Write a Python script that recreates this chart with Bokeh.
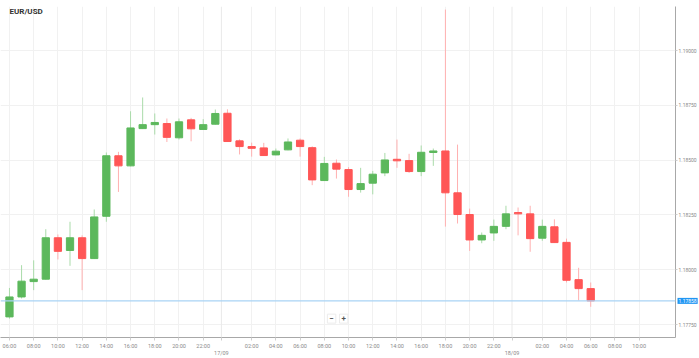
from bokeh.plotting import figure
from bokeh.models import (FixedTicker, Span, Label, ColumnDataSource,
                          Range1d, NumeralTickFormatter)
from bokeh.embed import file_html
from bokeh.resources import INLINE

symbol = "EUR/USD"

times = ["06:00", "07:00", "08:00", "09:00", "10:00", "11:00", "12:00", "13:00", "14:00",
         "15:00", "16:00", "17:00", "18:00", "19:00", "20:00", "21:00", "22:00", "23:00",
         "00:00", "01:00", "02:00", "03:00", "04:00", "05:00", "06:00", "07:00", "08:00",
         "09:00", "10:00", "11:00", "12:00", "13:00", "14:00", "15:00", "16:00", "17:00",
         "18:00", "19:00", "20:00", "21:00", "22:00", "23:00",
         "00:00", "01:00", "02:00", "03:00", "04:00", "05:00", "06:00"]
future_times = ["07:00", "08:00", "09:00", "10:00"]
dates = ["17/09", "18/09"]

opens = [1.17785, 1.17876, 1.17946, 1.17957, 1.18146, 1.18088, 1.18146, 1.18051, 1.18244, 1.18520,
         1.18474, 1.18644, 1.18662, 1.18667, 1.18602, 1.18684, 1.18640, 1.18664, 1.18714, 1.18588,
         1.18562, 1.18556, 1.18524, 1.18547, 1.18591, 1.18557, 1.18407, 1.18486, 1.18457, 1.18366,
         1.18395, 1.18442, 1.18504, 1.18498, 1.18448, 1.18535, 1.18542, 1.18351, 1.18252, 1.18136,
         1.18168, 1.18198, 1.18261, 1.18255, 1.18144, 1.18196, 1.18125, 1.17955, 1.17914]
closes = [1.17876, 1.17948, 1.17957, 1.18146, 1.18084, 1.18146, 1.18051, 1.18241, 1.18520, 1.18474,
          1.18647, 1.18662, 1.18672, 1.18604, 1.18675, 1.18643, 1.18662, 1.18713, 1.18585, 1.18562,
          1.18554, 1.18521, 1.18541, 1.18583, 1.18562, 1.18410, 1.18485, 1.18459, 1.18366, 1.18393,
          1.18436, 1.18501, 1.18497, 1.18448, 1.18536, 1.18542, 1.18351, 1.18252, 1.18136, 1.18157,
          1.18198, 1.18255, 1.18255, 1.18142, 1.18198, 1.18124, 1.17952, 1.17914, 1.17858]
highs = [1.17917, 1.18021, 1.18043, 1.18185, 1.18161, 1.18219, 1.18157, 1.18275, 1.18535, 1.18538,
         1.18723, 1.18786, 1.18713, 1.18690, 1.18690, 1.18693, 1.18687, 1.18731, 1.18732, 1.18595,
         1.18580, 1.18579, 1.18553, 1.18599, 1.18599, 1.18563, 1.18515, 1.18503, 1.18468, 1.18465,
         1.18451, 1.18533, 1.18594, 1.18529, 1.18567, 1.18553, 1.19187, 1.18571, 1.18279, 1.18170,
         1.18229, 1.18292, 1.18284, 1.18292, 1.18229, 1.18230, 1.18142, 1.18009, 1.17942]
lows = [1.17777, 1.17869, 1.17907, 1.17955, 1.18047, 1.18018, 1.17907, 1.18049, 1.18219, 1.18355,
        1.18472, 1.18642, 1.18617, 1.18583, 1.18594, 1.18586, 1.18638, 1.18662, 1.18583, 1.18526,
        1.18516, 1.18519, 1.18522, 1.18545, 1.18516, 1.18386, 1.18405, 1.18416, 1.18333, 1.18352,
        1.18344, 1.18427, 1.18465, 1.18442, 1.18427, 1.18474, 1.18197, 1.18211, 1.18086, 1.18121,
        1.18132, 1.18185, 1.18157, 1.18082, 1.18132, 1.18122, 1.17942, 1.17860, 1.17831]
price_ticks = [1.17750, 1.18000, 1.18250, 1.18500, 1.18750, 1.19000]

GREEN = "#5cb85c"
RED = "#ff5656"
GREEN_WICK = "#a9dba9"
RED_WICK = "#ffb0b0"
FONT = "Roboto"

idx = list(range(len(times)))
up = [c >= o for o, c in zip(opens, closes)]
src = ColumnDataSource(dict(
    x=idx,
    top=[max(o, c) for o, c in zip(opens, closes)],
    bottom=[min(o, c) for o, c in zip(opens, closes)],
    high=highs, low=lows,
    color=[GREEN if u else RED for u in up],
    wick=[GREEN_WICK if u else RED_WICK for u in up],
))

p = figure(width=699, height=358, output_backend="svg", toolbar_location=None,
           x_range=Range1d(-0.74, 55.0), y_range=Range1d(1.17691, 1.19201),
           y_axis_location="right", min_border_left=0, min_border_top=0,
           min_border_right=23, min_border_bottom=0, outline_line_color=None)

all_times = times + future_times
x_ticks = [i for i, t in enumerate(all_times) if int(t[:2]) % 2 == 0 and t != "00:00"]
sep_pos = [i - 0.5 for i, t in enumerate(times) if t == "00:00"]
overrides = {i: all_times[i] for i in x_ticks}
for s, d in zip(sep_pos, dates):
    overrides[s] = " \n" + d

# grids
p.xgrid.ticker = FixedTicker(ticks=x_ticks)
p.xgrid.grid_line_color = "#f1f1f1"
p.ygrid.grid_line_color = "#f1f1f1"
for s in sep_pos:
    p.add_layout(Span(location=s, dimension="height", line_color="#e9e9e9", line_width=1))

# bottom axis
xa = p.xaxis[0]
xa.ticker = FixedTicker(ticks=x_ticks + sep_pos)
xa.major_label_overrides = overrides
xa.axis_line_color = "#a8a8a8"
xa.major_tick_line_color = "#cfcfcf"
xa.major_tick_in = 0
xa.major_tick_out = 3
xa.minor_tick_line_color = None
xa.major_label_standoff = 2
xa.major_label_text_font = FONT
xa.major_label_text_font_size = "5.5px"
xa.major_label_text_color = "#8a8a8a"
xa.major_label_text_line_height = 1.2

# right axis
ya = p.yaxis[0]
ya.ticker = FixedTicker(ticks=price_ticks)
ya.formatter = NumeralTickFormatter(format="0.00000")
ya.axis_line_color = "#a8a8a8"
ya.major_tick_line_color = "#cfcfcf"
ya.major_tick_in = 0
ya.major_tick_out = 2
ya.minor_tick_line_color = None
ya.major_label_standoff = 1
ya.major_label_text_font = FONT
ya.major_label_text_font_size = "5px"
ya.major_label_text_color = "#8a8a8a"

# current price line
last = closes[-1]
p.add_layout(Span(location=last, dimension="width", line_color="#a9d3f5", line_width=1.2))

# candles
p.segment(x0="x", x1="x", y0="low", y1="high", line_color="wick", line_width=1, source=src)
p.vbar(x="x", width=0.6, top="top", bottom="bottom", fill_color="color",
       line_color="color", line_width=1, source=src)

# price tag on the axis (placed in a side panel so it is not clipped to the frame)
tag = Label(x=677, x_units="canvas", y=last, text=f"{last:.5f}",
            text_baseline="middle", text_align="left",
            text_font=FONT, text_font_size="5px", text_color="white",
            background_fill_color="#2196f3", padding=1)
p.add_layout(tag, "above")

# title
p.add_layout(Label(x=-0.74, y=1.19201, text=symbol, x_offset=9, y_offset=0,
                   text_baseline="top", text_align="left", text_font=FONT,
                   text_font_style="bold", text_font_size="8px", text_color="#333333"))

# zoom buttons
p.add_layout(Label(x=26.6, y=1.17777, text="\u2212", text_align="center",
                   text_baseline="middle", text_font=FONT, text_font_size="8px",
                   text_font_style="bold", text_color="#555555",
                   background_fill_color="white", border_line_color="#ececec", padding=2))
p.add_layout(Label(x=27.6, y=1.17777, text="+", text_align="center",
                   text_baseline="middle", text_font=FONT, text_font_size="8px",
                   text_font_style="bold", text_color="#555555",
                   background_fill_color="white", border_line_color="#ececec", padding=2))

open("out.html", "w").write(file_html(p, INLINE))
